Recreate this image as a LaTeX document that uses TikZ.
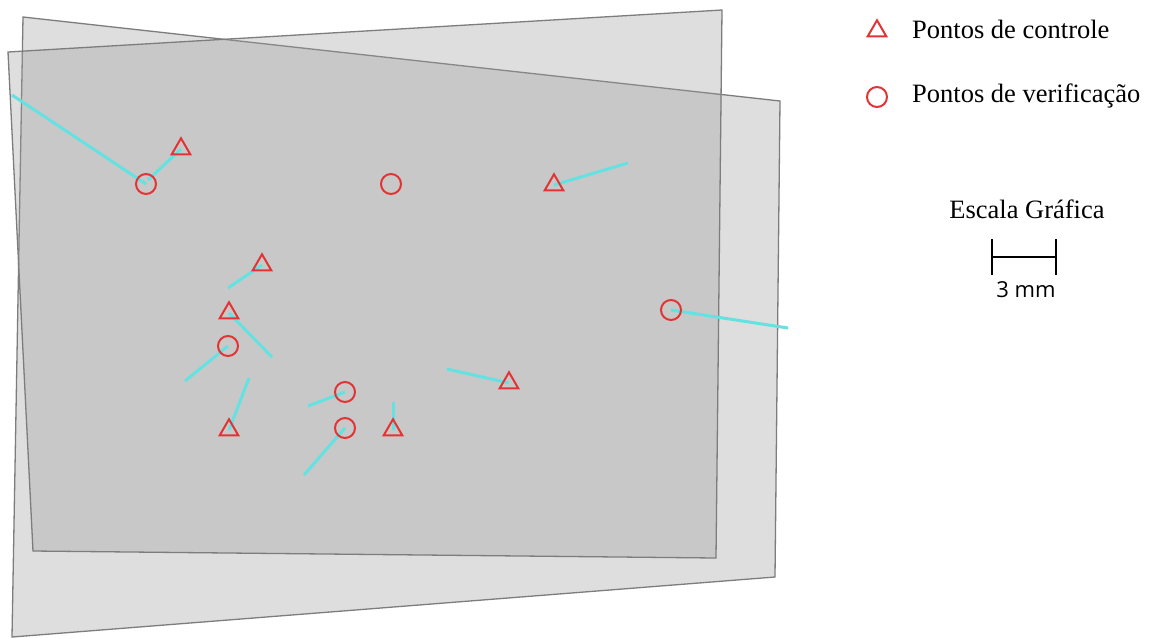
\documentclass[tikz,border=0pt]{standalone}
\usepackage{fontspec}
\setmainfont{Liberation Serif}
\newfontfamily\scalefont{Open Sans}
\usetikzlibrary{shapes.geometric,backgrounds}
\definecolor{mkred}{RGB}{226,52,52}
\definecolor{errcyan}{RGB}{100,226,226}
\definecolor{sheetfill}{RGB}{156,156,156}
\definecolor{sheetedge}{RGB}{125,125,125}
\tikzset{
  sheet/.style={draw=sheetedge,line width=1.3pt,fill=sheetfill,fill opacity=0.333},
  ctrl/.style={draw=mkred,line width=2pt,regular polygon,regular polygon sides=3,minimum size=21.5pt,inner sep=0pt},
  chk/.style={draw=mkred,line width=2pt,circle,minimum size=20pt,inner sep=0pt},
  err/.style={errcyan,line width=3pt},
  lbl/.style={font=\fontsize{26.5}{31}\selectfont,inner sep=0pt},
  bar/.style={black,line width=2pt}
}
\begin{document}
\begin{tikzpicture}[x=1pt,y=-1pt]
\useasboundingbox (0,0) rectangle (1151,638);
\begin{pgfonlayer}{background}
  \fill[white] (0,0) rectangle (1151,638);
  \draw[sheet] (23,17) -- (780,101) -- (775,577) -- (12,637) -- cycle;
  \draw[sheet] (8,52) -- (722,10) -- (716,558) -- (33,551) -- cycle;
\end{pgfonlayer}
% control points
\node[ctrl] (t1) at (181,149) {};
\node[ctrl] (t2) at (554,185) {};
\node[ctrl] (t3) at (262,265) {};
\node[ctrl] (t4) at (229,313) {};
\node[ctrl] (t5) at (229,430) {};
\node[ctrl] (t6) at (393,430) {};
\node[ctrl] (t7) at (509,383) {};
% check points
\node[chk] (c1) at (146,184) {};
\node[chk] (c2) at (391,184) {};
\node[chk] (c3) at (228,346) {};
\node[chk] (c4) at (345,392) {};
\node[chk] (c5) at (345,428) {};
\node[chk] (c6) at (671,310) {};
% free ends of error vectors
\coordinate (e1) at (12,95);
\coordinate (e2) at (148,180);
\coordinate (e3) at (628,163);
\coordinate (e4) at (788,328);
\coordinate (e5) at (447,369);
\coordinate (e6) at (228,288);
\coordinate (e7) at (272,357);
\coordinate (e8) at (185,381);
\coordinate (e9) at (249,378);
\coordinate (e10) at (308,406);
\coordinate (e11) at (304,475);
\coordinate (e12) at (393,402);
\begin{pgfonlayer}{background}
  \draw[err] (c1.center) -- (e1);
  \draw[err] (t1.center) -- (e2);
  \draw[err] (t2.center) -- (e3);
  \draw[err] (c6.center) -- (e4);
  \draw[err] (t7.center) -- (e5);
  \draw[err] (t3.center) -- (e6);
  \draw[err] (t4.center) -- (e7);
  \draw[err] (c3.center) -- (e8);
  \draw[err] (t5.center) -- (e9);
  \draw[err] (c4.center) -- (e10);
  \draw[err] (c5.center) -- (e11);
  \draw[err] (t6.center) -- (e12);
\end{pgfonlayer}
% legend
\node[ctrl] (lt) at (877,31) {};
\node[chk] (lc) at (877,97) {};
\node[lbl,anchor=base west] (ltx) at (912,38) {Pontos de controle};
\node[lbl,anchor=base west] (lcx) at (912,102) {Pontos de verificação};
\node[lbl,anchor=base] (esc) at (1027,218) {Escala Gráfica};
% scale bar
\coordinate (sbl) at (992,257);
\coordinate (sbr) at (1056,257);
\draw[bar] (sbl) -- (sbr);
\draw[bar] ([yshift=-18pt]sbl) -- ([yshift=18pt]sbl);
\draw[bar] ([yshift=-18pt]sbr) -- ([yshift=18pt]sbr);
\node[anchor=base,inner sep=0pt,font=\scalefont\fontsize{22}{26}\selectfont] (mm) at (1026,297) {3 mm};
\end{tikzpicture}
\end{document}
